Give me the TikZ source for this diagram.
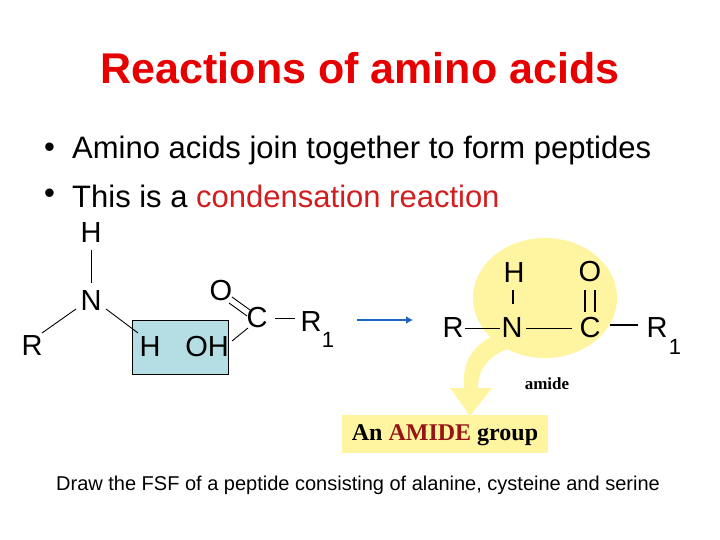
\documentclass[tikz,border=0pt]{standalone}
\usepackage{fontspec}
\usetikzlibrary{arrows.meta}
\setmainfont{Liberation Sans}
\newfontfamily\tms{Liberation Serif}
\definecolor{ttlred}{RGB}{230,0,0}
\definecolor{condred}{RGB}{210,30,30}
\definecolor{boxblue}{RGB}{180,222,228}
\definecolor{yel}{RGB}{255,245,160}
\definecolor{arrblue}{RGB}{30,100,200}
\definecolor{amred}{RGB}{150,20,20}
\begin{document}
\begin{tikzpicture}[x=1pt,y=-1pt,
  atom/.style={font=\fontsize{29}{32}\selectfont, inner sep=0pt},
  sub/.style={font=\fontsize{22}{24}\selectfont, inner sep=0pt},
  bullet/.style={anchor=west, font=\fontsize{31}{34}\selectfont, inner sep=0pt},
  bond/.style={line width=0.9pt},
  tbond/.style={line width=2.4pt}]
\useasboundingbox (0,0) rectangle (720,540);
\node[font=\fontsize{43}{46}\selectfont\bfseries, text=ttlred] (title) at (360,68) {Reactions of amino acids};
\node[bullet] (d1) at (44,150) {•};
\node[bullet] (b1) at (72,150) {Amino acids join together to form peptides};
\node[bullet] (d2) at (44,196) {•};
\node[bullet] (b2) at (72,196) {This is a \textcolor{condred}{condensation reaction}};
% left molecule
\fill[boxblue] (132,320) rectangle (228,374);
\draw[line width=0.6pt] (132,320) rectangle (228,374);
\node[atom] (H1) at (91,233) {H};
\node[atom] (N1) at (91,301) {N};
\node[atom] (R0) at (32,346) {R};
\node[atom] (H2) at (150,347) {H};
\node[atom] (OH) at (207,347) {OH};
\node[atom] (O1) at (221,291) {O};
\node[atom] (C1) at (257,318) {C};
\node[atom] (R1) at (311,322) {R};
\node[sub] (s1) at (328,340) {1};
\draw[bond] (91,250) -- (91,283);
\draw[bond] (42,333) -- (76,309);
\draw[bond] (106,309) -- (138,333);
\draw[bond] (232,297) -- (250,310);
\draw[bond] (229,303) -- (247,316);
\draw[bond] (232,341) -- (248,328);
\draw[bond] (275,318) -- (295,318);
% arrow
\coordinate (a0) at (357,320); \coordinate (a1) at (413,320);
\draw[arrblue, line width=2.4pt, -{Latex[length=7pt,width=8pt]}] (a0) -- (a1);
% yellow circle and curved arrow
\fill[yel] (545,298) ellipse [x radius=72, y radius=60];
\fill[yel] (510,330) .. controls (470,340) and (462,365) .. (464,388)
  -- (450,388) -- (470,416) -- (492,388) -- (478,388)
  .. controls (478,368) and (490,350) .. (525,345) -- cycle;
\fill[yel] (342,415) rectangle (548,453);
\node[font=\tms\fontsize{24}{26}\selectfont\bfseries] (grp) at (445,435) {An \textcolor{amred}{AMIDE} group};
% right molecule
\node[atom] (R2) at (453,328) {R};
\node[atom] (N2) at (512,328) {N};
\node[atom] (C2) at (590,328) {C};
\node[atom] (R3) at (657,328) {R};
\node[sub] (s2) at (675,347) {1};
\node[atom] (H3) at (514,273) {H};
\node[atom] (O2) at (590,272) {O};
\draw[bond] (465,328) -- (500,328);
\draw[bond] (526,328) -- (572,328);
\draw[tbond] (610,325) -- (638,325);
\draw[tbond] (513,290) -- (513,304);
\draw[tbond] (585,290) -- (585,312);
\draw[tbond] (595,290) -- (595,312);
\node[font=\tms\fontsize{17}{19}\selectfont\bfseries] (am) at (547,384) {amide};
\node[font=\fontsize{20}{22}\selectfont] (q) at (358,485) {Draw the FSF of a peptide consisting of alanine, cysteine and serine};
\end{tikzpicture}
\end{document}
